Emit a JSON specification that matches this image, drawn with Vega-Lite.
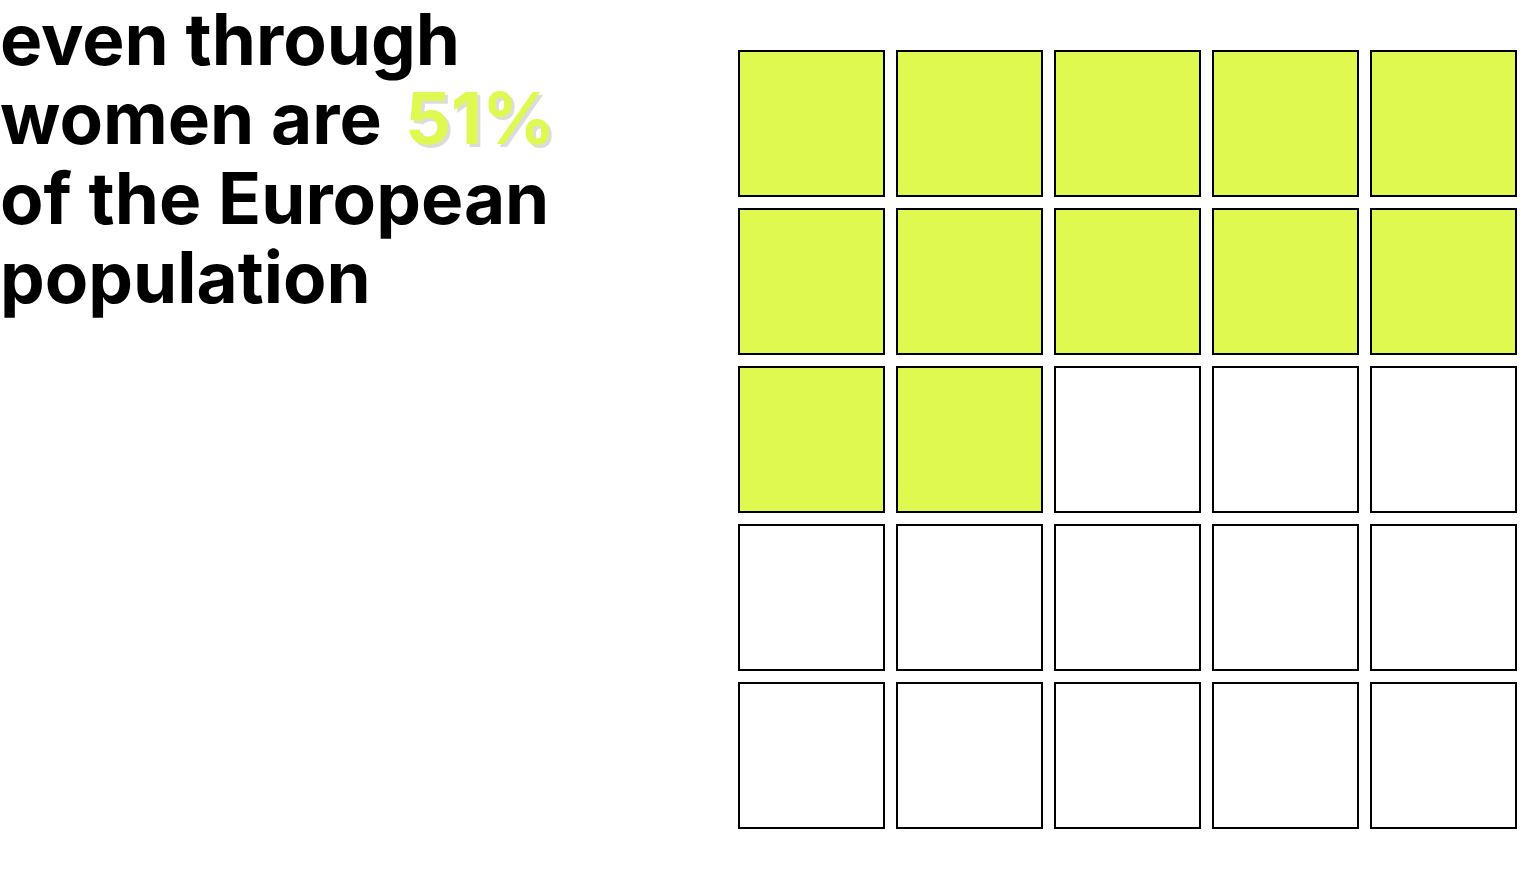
{
  "$schema": "https://vega.github.io/schema/vega-lite/v6.json",
  "width": 1540,
  "height": 880,
  "autosize": {"type": "fit", "contains": "padding"},
  "padding": 0,
  "background": "white",
  "config": {"view": {"stroke": null}},
  "datasets": {
    "cells": [
      {"row": 1, "col": 1, "filled": "yes"}, {"row": 1, "col": 2, "filled": "yes"}, {"row": 1, "col": 3, "filled": "yes"}, {"row": 1, "col": 4, "filled": "yes"}, {"row": 1, "col": 5, "filled": "yes"},
      {"row": 2, "col": 1, "filled": "yes"}, {"row": 2, "col": 2, "filled": "yes"}, {"row": 2, "col": 3, "filled": "yes"}, {"row": 2, "col": 4, "filled": "yes"}, {"row": 2, "col": 5, "filled": "yes"},
      {"row": 3, "col": 1, "filled": "yes"}, {"row": 3, "col": 2, "filled": "yes"}, {"row": 3, "col": 3, "filled": "no"}, {"row": 3, "col": 4, "filled": "no"}, {"row": 3, "col": 5, "filled": "no"},
      {"row": 4, "col": 1, "filled": "no"}, {"row": 4, "col": 2, "filled": "no"}, {"row": 4, "col": 3, "filled": "no"}, {"row": 4, "col": 4, "filled": "no"}, {"row": 4, "col": 5, "filled": "no"},
      {"row": 5, "col": 1, "filled": "no"}, {"row": 5, "col": 2, "filled": "no"}, {"row": 5, "col": 3, "filled": "no"}, {"row": 5, "col": 4, "filled": "no"}, {"row": 5, "col": 5, "filled": "no"}
    ],
    "lines": [
      {"line": 1, "text": "even through"},
      {"line": 2, "text": "women are"},
      {"line": 3, "text": "of the European"},
      {"line": 4, "text": "population"}
    ],
    "highlight": [
      {"line": 2, "text": "51%"}
    ]
  },
  "layer": [
    {
      "data": {"name": "cells"},
      "mark": {"type": "rect", "stroke": "black", "strokeWidth": 2},
      "encoding": {
        "x": {"field": "col", "type": "ordinal", "axis": null,
              "scale": {"type": "band", "paddingInner": 0.0823, "paddingOuter": 0, "range": [739, 1516]}},
        "y": {"field": "row", "type": "ordinal", "axis": null,
              "scale": {"type": "band", "paddingInner": 0.0823, "paddingOuter": 0, "range": [51, 828]}},
        "color": {"field": "filled", "type": "nominal", "legend": null,
                  "scale": {"domain": ["yes", "no"], "range": ["#dff950", "#ffffff"]}}
      }
    },
    {
      "data": {"name": "lines"},
      "mark": {"type": "text", "align": "left", "baseline": "alphabetic", "font": "Inter", "fontWeight": 700, "fontSize": 71, "color": "#000000"},
      "encoding": {
        "x": {"value": 0},
        "y": {"field": "line", "type": "ordinal", "axis": null,
              "scale": {"type": "point", "domain": [1, 2, 3, 4], "padding": 0, "range": [65, 303]}},
        "text": {"field": "text"}
      }
    },
    {
      "data": {"name": "highlight"},
      "mark": {"type": "text", "align": "left", "baseline": "alphabetic", "font": "Inter", "fontWeight": 700, "fontSize": 72, "color": "#777777", "opacity": 0.25, "dx": 408, "dy": 3},
      "encoding": {
        "x": {"value": 0},
        "y": {"field": "line", "type": "ordinal", "axis": null,
              "scale": {"type": "point", "domain": [1, 2, 3, 4], "padding": 0, "range": [65, 303]}},
        "text": {"field": "text"}
      }
    },
    {
      "data": {"name": "highlight"},
      "mark": {"type": "text", "align": "left", "baseline": "alphabetic", "font": "Inter", "fontWeight": 700, "fontSize": 72, "color": "#dff950", "dx": 405},
      "encoding": {
        "x": {"value": 0},
        "y": {"field": "line", "type": "ordinal", "axis": null,
              "scale": {"type": "point", "domain": [1, 2, 3, 4], "padding": 0, "range": [65, 303]}},
        "text": {"field": "text"}
      }
    }
  ],
  "resolve": {"scale": {"y": "independent", "x": "independent", "color": "independent"}}
}
